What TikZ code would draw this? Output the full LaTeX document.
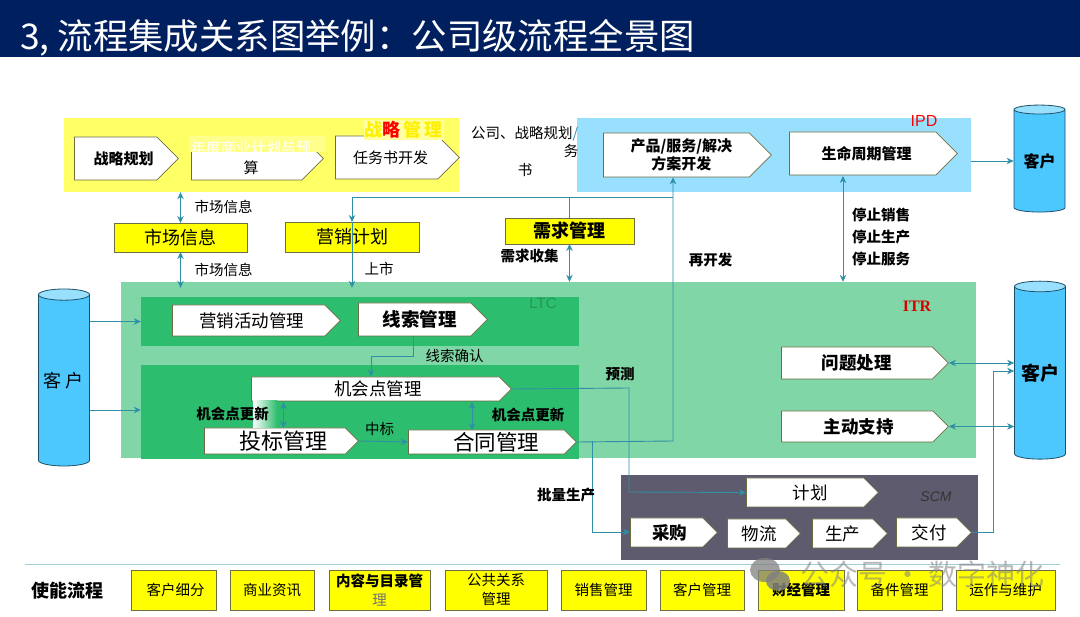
\documentclass[tikz,border=0pt]{standalone}
\usepackage{fontspec}
\setmainfont{Noto Sans CJK SC}
\newfontfamily\latinsans{Liberation Sans}
\newfontfamily\latinserif{Liberation Serif}
\usetikzlibrary{shapes.geometric, shapes.symbols, arrows.meta, positioning}
\definecolor{navybar}{RGB}{0,31,95}
\definecolor{stratyellow}{RGB}{255,255,102}
\definecolor{boxyellow}{RGB}{255,255,0}
\definecolor{ipdblue}{RGB}{153,224,255}
\definecolor{custblue}{RGB}{77,200,255}
\definecolor{ltcgreen}{RGB}{128,214,166}
\definecolor{deepgreen}{RGB}{45,189,110}
\definecolor{scmgray}{RGB}{95,91,110}
\definecolor{flowteal}{RGB}{46,143,166}
\definecolor{edgeolive}{RGB}{110,110,70}
\newcommand{\nudge}[3]{\hspace*{#1}\raisebox{#2}{#3}}

\begin{document}
\begin{tikzpicture}[
  x=1pt, y=-1pt,
  panel/.style={rectangle, inner sep=0pt},
  proc/.style={signal, signal to=east, anchor=west, draw=edgeolive, fill=white, line width=0.8pt,
               inner sep=0pt, font=\fontsize{15pt}{18pt}\selectfont, align=center},
  ybox/.style={rectangle, draw=edgeolive, fill=boxyellow, line width=0.8pt, inner sep=0pt, outer sep=0pt,
               minimum height=29pt, font=\fontsize{18pt}{21pt}\selectfont, align=center},
  ebox/.style={ybox, minimum height=40pt, font=\fontsize{14.5pt}{19pt}\selectfont},
  cust/.style={cylinder, shape border rotate=90, aspect=0.28, draw=black!60!custblue, line width=0.8pt,
               cylinder uses custom fill, cylinder body fill=custblue, cylinder end fill=ipdblue,
               inner sep=0pt, minimum width=51pt},
  lbl/.style={font=\fontsize{14.5pt}{17pt}\selectfont, inner sep=0pt},
  blbl/.style={lbl, font=\fontsize{14.5pt}{17pt}\selectfont\bfseries},
  arr/.style={-{Stealth[length=7pt, width=6.5pt]}, line width=0.9pt, color=flowteal},
  darr/.style={{Stealth[length=7pt, width=6.5pt]}-{Stealth[length=7pt, width=6.5pt]}, line width=0.9pt, color=flowteal},
  line/.style={line width=0.9pt, color=flowteal}
]
  \useasboundingbox (0,0) rectangle (1080,617);

  % Title bar
  \node[panel, fill=navybar, minimum width=1080pt, minimum height=57pt] (bar) at (540,28.5) {};
  \node[text=white, inner sep=0pt, anchor=west, font=\fontsize{35.4pt}{38pt}\selectfont] (title) at (20,38) {3, 流程集成关系图举例\char"FF1A 公司级流程全景图};

  % Panels
  \node[panel, fill=stratyellow, minimum width=395pt, minimum height=74pt] (strat) at (261.5,155) {};
  \node[panel, fill=ipdblue, minimum width=394pt, minimum height=74pt] (ipd) at (774,155) {};
  \node[panel, fill=ltcgreen, minimum width=855pt, minimum height=176pt] (ltc) at (548.5,370) {};
  \node[panel, fill=deepgreen, minimum width=438pt, minimum height=49pt] (leadp) at (360,321.5) {};
  \node[panel, fill=deepgreen, minimum width=438pt, minimum height=94pt] (oppp) at (360,412) {};
  \node[panel, fill=scmgray, minimum width=357pt, minimum height=85pt] (scm) at (799.5,517.5) {};

  % Customers
  \node[cust, minimum height=107pt, font=\fontsize{16pt}{18pt}\selectfont\bfseries] (custa) at (1039.5,161) {客户};
  \node[cust, minimum height=178pt, font=\fontsize{19pt}{21pt}\selectfont\bfseries] (custb) at (1040,373) {客户};
  \node[cust, minimum height=177pt, font=\fontsize{18pt}{20pt}\selectfont] (custc) at (64,380.5) {客 户};

  % Yellow boxes
  \node[ybox, minimum width=133pt] (mkt) at (180.5,237.5) {\nudge{0pt}{-3pt}{市场信息}};
  \node[ybox, minimum width=134pt, minimum height=30pt] (plan) at (352,237) {\nudge{0pt}{-3pt}{营销计划}};
  \node[ybox, minimum width=129pt, minimum height=26pt, font=\fontsize{18pt}{21pt}\selectfont\bfseries] (req) at (569.5,231) {需求管理};

  % Connectors
  \coordinate (stopt) at (843,176);
  \coordinate (railr) at (673,197);
  \coordinate (raill) at (352,197);
  \coordinate (reqt) at (569.5,197);
  \coordinate (forka) at (413,356);
  \coordinate (forkb) at (371,356);
  \coordinate (fcst) at (629,388);
  \coordinate (fcstb) at (629,492);
  \coordinate (mass) at (592.5,441);
  \coordinate (massb) at (592.5,532);
  \coordinate (rejoin) at (673,441);
  \coordinate (dlvb) at (993,532);
  \coordinate (dlvt) at (993,371);
  \draw[darr] (mkt.north) -- (strat.south -| mkt.north);
  \draw[darr] (mkt.south) -- ([yshift=-6pt]ltc.north -| mkt.south);
  \draw[arr] (raill) -- (plan.north);
  \draw[arr] (plan.north) -- ([yshift=-6pt]ltc.north -| plan.north);
  \draw[line] (req.north) -- (reqt);
  \draw[darr] (req.south) -- (ltc.north -| req.south);
  \draw[darr] (stopt) -- (ltc.north -| stopt);
  \draw[arr] (ipd.east |- custa.center) -- (custa.west |- custa.center);
  \draw[arr] (custc.east |- leadp.west) -- (leadp.west);
  \draw[arr] (custc.east |- 0,410) -- (oppp.west |- 0,410);
  \draw[line] (railr) -- (raill);

  % Process boxes
  \node[proc, minimum width=104pt, minimum height=43pt, font=\fontsize{15pt}{18pt}\selectfont\bfseries] (strategy) at (74,158.5) {\nudge{16pt}{0pt}{战略规划}};
  \node[proc, minimum width=132pt, minimum height=43pt] (budget) at (191,158.5) {};
  \node[proc, minimum width=124pt, minimum height=43pt] (task) at (335,157.5) {\nudge{8pt}{0pt}{任务书开发}};
  \node[proc, minimum width=168pt, minimum height=44pt, font=\fontsize{15pt}{18pt}\selectfont\bfseries] (prod) at (603,155) {\nudge{10pt}{0pt}{产品/服务/解决}\\\nudge{10pt}{0pt}{方案开发}};
  \node[proc, minimum width=168pt, minimum height=43pt, font=\fontsize{15pt}{18pt}\selectfont\bfseries] (life) at (789,153.5) {\nudge{8pt}{0pt}{生命周期管理}};
  \node[proc, minimum width=168pt, minimum height=31pt, font=\fontsize{17.5pt}{20pt}\selectfont] (act) at (172,320.5) {\nudge{6pt}{0pt}{营销活动管理}};
  \node[proc, minimum width=129pt, minimum height=33pt, font=\fontsize{18.5pt}{20pt}\selectfont\bfseries] (lead) at (358,319.5) {\nudge{10pt}{0pt}{线索管理}};
  \node[proc, minimum width=260pt, minimum height=24pt, font=\fontsize{17.5pt}{20pt}\selectfont] (opp) at (251,389) {\nudge{5pt}{0pt}{机会点管理}};
  \node[proc, minimum width=154pt, minimum height=26pt, font=\fontsize{22pt}{24pt}\selectfont] (bid) at (204,441) {\nudge{18pt}{-3pt}{投标管理}};
  \node[proc, minimum width=168pt, minimum height=24pt, font=\fontsize{21.5pt}{24pt}\selectfont] (contract) at (408,442) {\nudge{20pt}{0pt}{合同管理}};
  \node[proc, minimum width=167pt, minimum height=32pt, font=\fontsize{17.5pt}{20pt}\selectfont\bfseries] (issue) at (781,363) {\nudge{0pt}{-6pt}{问题处理}};
  \node[proc, minimum width=167pt, minimum height=31pt, font=\fontsize{17.5pt}{20pt}\selectfont\bfseries] (support) at (781,426.5) {\nudge{3pt}{-5pt}{主动支持}};
  \node[proc, minimum width=132pt, minimum height=29pt, font=\fontsize{17.5pt}{20pt}\selectfont] (sched) at (746,492.5) {\nudge{10pt}{-6pt}{计划}};
  \node[proc, minimum width=87pt, minimum height=29pt, font=\fontsize{17.5pt}{20pt}\selectfont\bfseries] (buy) at (630,532.5) {\nudge{6pt}{0pt}{采购}};
  \node[proc, minimum width=73pt, minimum height=29pt, font=\fontsize{17.5pt}{20pt}\selectfont] (logi) at (727,533.5) {\nudge{5pt}{-5pt}{物流}};
  \node[proc, minimum width=75pt, minimum height=29pt, font=\fontsize{17.5pt}{20pt}\selectfont] (make) at (812,533.5) {\nudge{0pt}{-3pt}{生产}};
  \node[proc, minimum width=75pt, minimum height=29pt, font=\fontsize{17.5pt}{20pt}\selectfont] (dlv) at (896,532.5) {\nudge{5pt}{-6pt}{交付}};

  % Washed-out parts
  \node[panel, fill=stratyellow!75, minimum width=137pt, minimum height=16pt] (haze) at (257,144.5) {};
  \shade[left color=white, right color=deepgreen] (253,401) rectangle (277,428);

  % Flows between the process boxes
  \draw[arr] (contract.east) -- (rejoin) -- (prod.south -| rejoin);
  \draw[arr] (lead.south -| forka) -- (forka) -- (forkb) -- (opp.north -| forkb);
  \draw[darr] (283.5,402) -- (283.5,428);
  \draw[darr] (472,402) -- (472,430);
  \draw[arr] (bid.east) -- (contract.west);
  \draw[arr] (opp.east) -- (fcst) -- (fcstb) -- (sched.west);
  \draw[arr] (mass) -- (massb) -- (buy.west |- massb);
  \draw[arr] (dlv.east |- dlvb) -- (dlvb) -- (dlvt) -- (custb.west |- dlvt);
  \draw[darr] (issue.east) -- (custb.west |- issue.east);
  \draw[darr] (support.east) -- (custb.west |- support.east);

  % Labels
  \node[font=\fontsize{18pt}{20pt}\selectfont\bfseries, fill=stratyellow!60, inner sep=1pt, text=boxyellow!88!orange] (stratname) at (403.5,130) {战{\color{red}略}\,管\,理};
  \node[font=\fontsize{15pt}{18pt}\selectfont, text=white, inner sep=0pt] (budgettop) at (251,148) {年度商业计划与预};
  \node[font=\fontsize{15pt}{18pt}\selectfont, inner sep=0pt] (budgetlow) at (251,168) {算};
  \node[lbl, anchor=west] (cmpa) at (471,134) {公司、战略规划{\color{flowteal}/}};
  \node[lbl] (cmpb) at (571,151) {务};
  \node[lbl] (cmpc) at (525,170) {书};
  \node[font=\latinsans\fontsize{16pt}{18pt}\selectfont, text=red, inner sep=0pt] (ipdname) at (924,121) {IPD};
  \node[font=\latinsans\fontsize{15pt}{18pt}\selectfont, text=deepgreen!80!black, inner sep=0pt] (ltcname) at (543,303) {LTC};
  \node[font=\latinserif\fontsize{16pt}{18pt}\selectfont\bfseries, text=red!85!black, inner sep=0pt] (itrname) at (917,306) {ITR};
  \node[font=\latinsans\fontsize{14pt}{16pt}\selectfont\itshape, text=black!80, inner sep=0pt] (scmname) at (936,497) {SCM};
  \node[lbl] (infoa) at (223.5,207) {市场信息};
  \node[lbl] (infob) at (223.5,270) {市场信息};
  \node[lbl] (launch) at (379,269) {上市};
  \node[blbl] (collect) at (529.5,256) {需求收集};
  \node[blbl] (redev) at (710.5,260) {再开发};
  \node[blbl] (stopa) at (881,215) {停止销售};
  \node[blbl] (stopb) at (881,237) {停止生产};
  \node[blbl] (stopc) at (881,259) {停止服务};
  \node[lbl] (confirm) at (454.5,356) {线索确认};
  \node[blbl] (forecast) at (620,374) {预测};
  \node[blbl] (updl) at (232.5,414) {机会点更新};
  \node[blbl] (updr) at (528,415) {机会点更新};
  \node[lbl] (win) at (379.5,429) {中标};
  \node[blbl] (batch) at (566,495) {批量生产};

  % Enabling row
  \draw[line width=1pt, color=flowteal!45] (25,565) -- (1060,565);
  \node[font=\fontsize{18pt}{20pt}\selectfont\bfseries, inner sep=0pt] (enable) at (67,591) {使能流程};
  \node[ebox, minimum width=85pt] (seg) at (173.5,590) {\nudge{4pt}{-2pt}{客户细分}};
  \node[ebox, minimum width=84pt, right=14pt of seg] (intel) {\nudge{0pt}{-2pt}{商业资讯}};
  \node[ebox, minimum width=101pt, right=15pt of intel, align=center] (content) {{\bfseries 内容与目录管}\\{\color{black!55}理}};
  \node[ebox, minimum width=102pt, right=15pt of content] (pr) {公共关系\\管理};
  \node[ebox, minimum width=85pt, right=14pt of pr] (sales) {\nudge{0pt}{-2pt}{销售管理}};
  \node[ebox, minimum width=84pt, right=14pt of sales] (crm) {客户管理};
  \node[ebox, minimum width=86pt, right=14pt of crm, font=\fontsize{14.5pt}{19pt}\selectfont\bfseries] (fin) {\nudge{0pt}{-2pt}{财经管理}};
  \node[ebox, minimum width=85pt, right=13pt of fin] (spare) {\nudge{0pt}{-2pt}{备件管理}};
  \node[ebox, minimum width=99pt, right=14pt of spare] (ops) {运作与维护};

  % Watermark
  \fill[black!50, opacity=0.75] (765,570) ellipse (15pt and 12pt);
  \fill[black!50, opacity=0.85] (778,581) ellipse (12pt and 10pt);
  \node[font=\fontsize{29pt}{32pt}\selectfont, text=black!50, opacity=0.55, inner sep=0pt] (mark) at (922.5,574) {公众号\hspace{6pt}·\hspace{6pt}数字神化};
\end{tikzpicture}
\end{document}
